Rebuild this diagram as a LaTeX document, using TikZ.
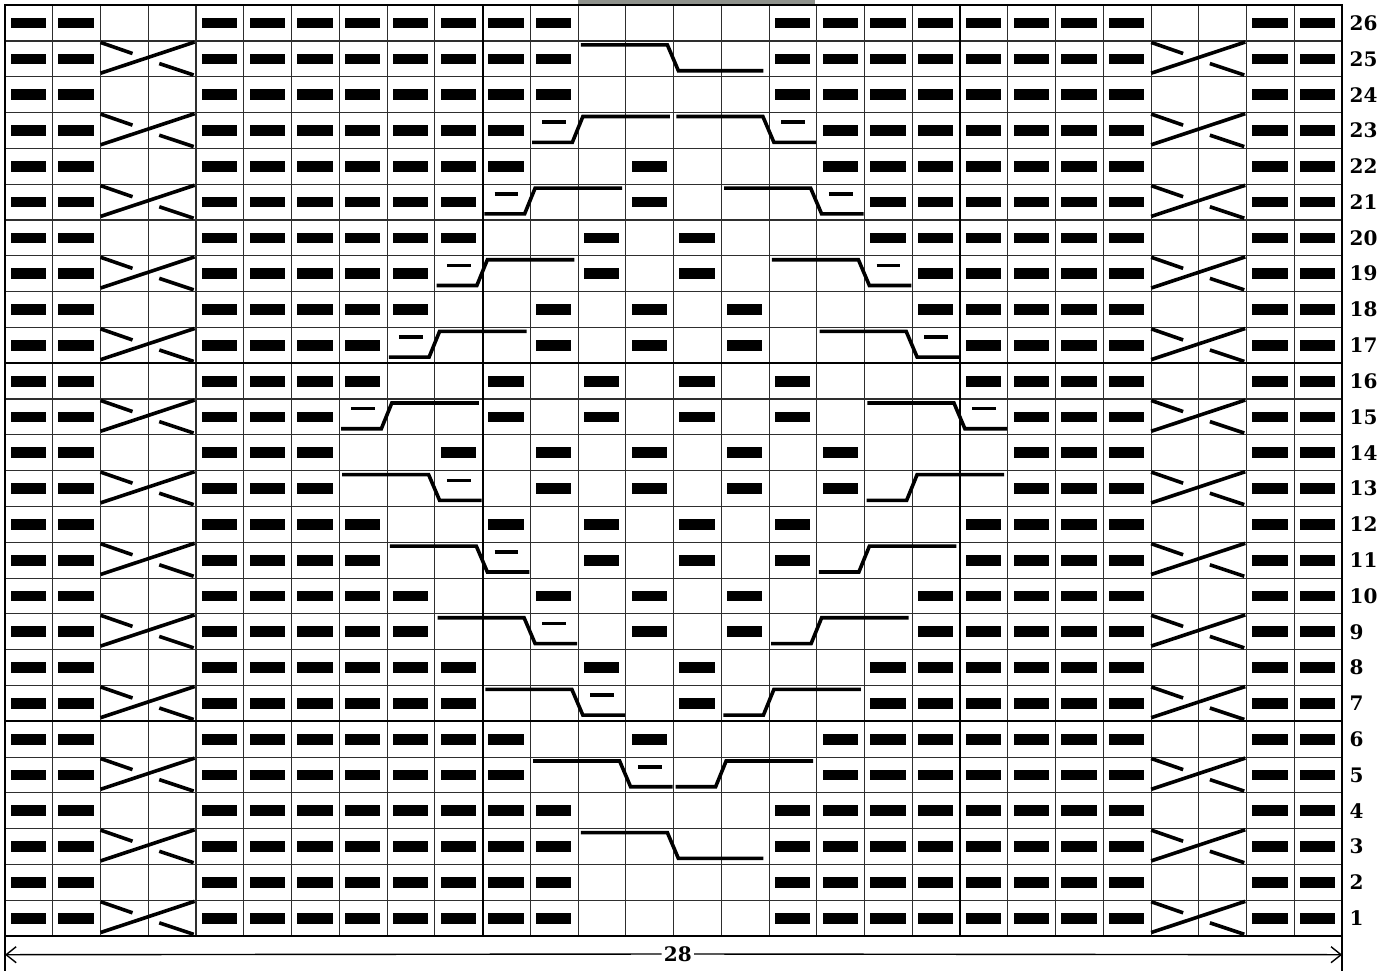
\documentclass[tikz,border=0pt]{standalone}
\usepackage{fontspec}
\setmainfont{DejaVu Serif}
\usetikzlibrary{arrows.meta}
\definecolor{rule}{HTML}{2E2E2E}
\definecolor{photo}{HTML}{8F928C}

\begin{document}
\begin{tikzpicture}[x=23.875pt,y=17.9pt,>={Straight Barb[length=5pt,width=8pt]},
    cab/.style={line width=1.8pt},
    rowno/.style={anchor=west,inner sep=0pt,font=\fontsize{10pt}{12pt}\selectfont\bfseries}]
    \useasboundingbox (-0.105,-0.978) rectangle (29.19,26.145);
    \fill[photo] (12,26) rectangle (16.96,26.145);
    \draw[rule,line width=0.55pt,step=1] (0,0) grid (28,26);
    \draw[line width=1pt] (10,0)--(10,26) (20,0)--(20,26) (0,6)--(28,6) (0,16)--(28,16);
    \draw[line width=0.8pt] (0,0) rectangle (28,26);
    % purl on the edge columns, every row
    \foreach \r in {1,...,26}
    {
        \foreach \c in {1,2,5,6,7,22,23,24,27,28}
            \fill (\c-0.88,\r-0.65) rectangle (\c-0.14,\r-0.35);
        \node[rowno] (n\r) at (28.15,\r-0.5) {\r};
    }
    % purl in the middle panel
    \foreach \r/\cl in {26/{8,9,10,11,12,17,18,19,20,21},25/{8,9,10,11,12,17,18,19,20,21},
        24/{8,9,10,11,12,17,18,19,20,21},23/{8,9,10,11,18,19,20,21},
        22/{8,9,10,11,14,18,19,20,21},21/{8,9,10,14,19,20,21},
        20/{8,9,10,13,15,19,20,21},19/{8,9,13,15,20,21},
        18/{8,9,12,14,16,20,21},17/{8,12,14,16,21},
        16/{8,11,13,15,17,21},15/{11,13,15,17},
        14/{10,12,14,16,18},13/{12,14,16,18},
        12/{8,11,13,15,17,21},11/{8,13,15,17,21},
        10/{8,9,12,14,16,20,21},9/{8,9,14,16,20,21},
        8/{8,9,10,13,15,19,20,21},7/{8,9,10,15,19,20,21},
        6/{8,9,10,11,14,18,19,20,21},5/{8,9,10,11,18,19,20,21},
        4/{8,9,10,11,12,17,18,19,20,21},3/{8,9,10,11,12,17,18,19,20,21},
        2/{8,9,10,11,12,17,18,19,20,21},1/{8,9,10,11,12,17,18,19,20,21}}
    {
        \foreach \c in \cl
            \fill (\c-0.88,\r-0.65) rectangle (\c-0.14,\r-0.35);
    }
    % 1/1 crosses at both sides
    \foreach \r in {1,3,...,25}
    {
        \foreach \x in {2,24}
        {
            \draw[cab] (\x,\r-0.9) -- (\x+1.97,\r-0.03);
            \draw[cab] (\x,\r-0.04) -- (\x+0.67,\r-0.35);
            \draw[cab] (\x+1.23,\r-0.63) -- (\x+1.95,\r-0.95);
        }
    }
    % crossings stepping down to the right
    \foreach \a/\m/\e/\r in {12/14/15.9/25,14/16/17/23,15/17/18/21,16/18/19/19,17/19/20/17,
        18/20/21/15,7/9/10/13,8/10/11/11,9/11/12/9,10/12/13/7,11/13/14/5,12/14/15.9/3}
        \draw[cab] (\a+0.06,\r-0.11) -- (\m-0.13,\r-0.11) -- (\m+0.1,\r-0.83) -- (\e-0.02,\r-0.83);
    % crossings stepping up to the right
    \foreach \a/\m/\e/\r in {11/12/14/23,10/11/13/21,9/10/12/19,8/9/11/17,7/8/10/15,
        18/19/21/13,17/18/20/11,16/17/19/9,15/16/18/7,14/15/17/5}
        \draw[cab] (\a+0.04,\r-0.83) -- (\m-0.12,\r-0.83) -- (\m+0.1,\r-0.11) -- (\e-0.08,\r-0.11);
    % purled stitch inside a crossing
    \foreach \c/\r in {12/23,17/23,11/21,18/21,10/19,19/19,9/17,20/17,8/15,21/15,
        10/13,11/11,12/9,13/7,14/5}
        \draw[cab] (\c-0.75,\r-0.27) -- (\c-0.25,\r-0.27);
    % width
    \coordinate (wl) at (0,-0.52);
    \coordinate (wr) at (28,-0.52);
    \node[inner sep=1pt,font=\fontsize{10pt}{12pt}\selectfont\bfseries] (wd) at (14.09,-0.5) {28};
    \draw[<-,line width=0.7pt] (wl) -- (wd);
    \draw[->,line width=0.7pt] (wd) -- (wr);
    \draw[line width=0.7pt] (0,0) -- (0,-0.978) (28,0) -- (28,-0.978);
\end{tikzpicture}
\end{document}
